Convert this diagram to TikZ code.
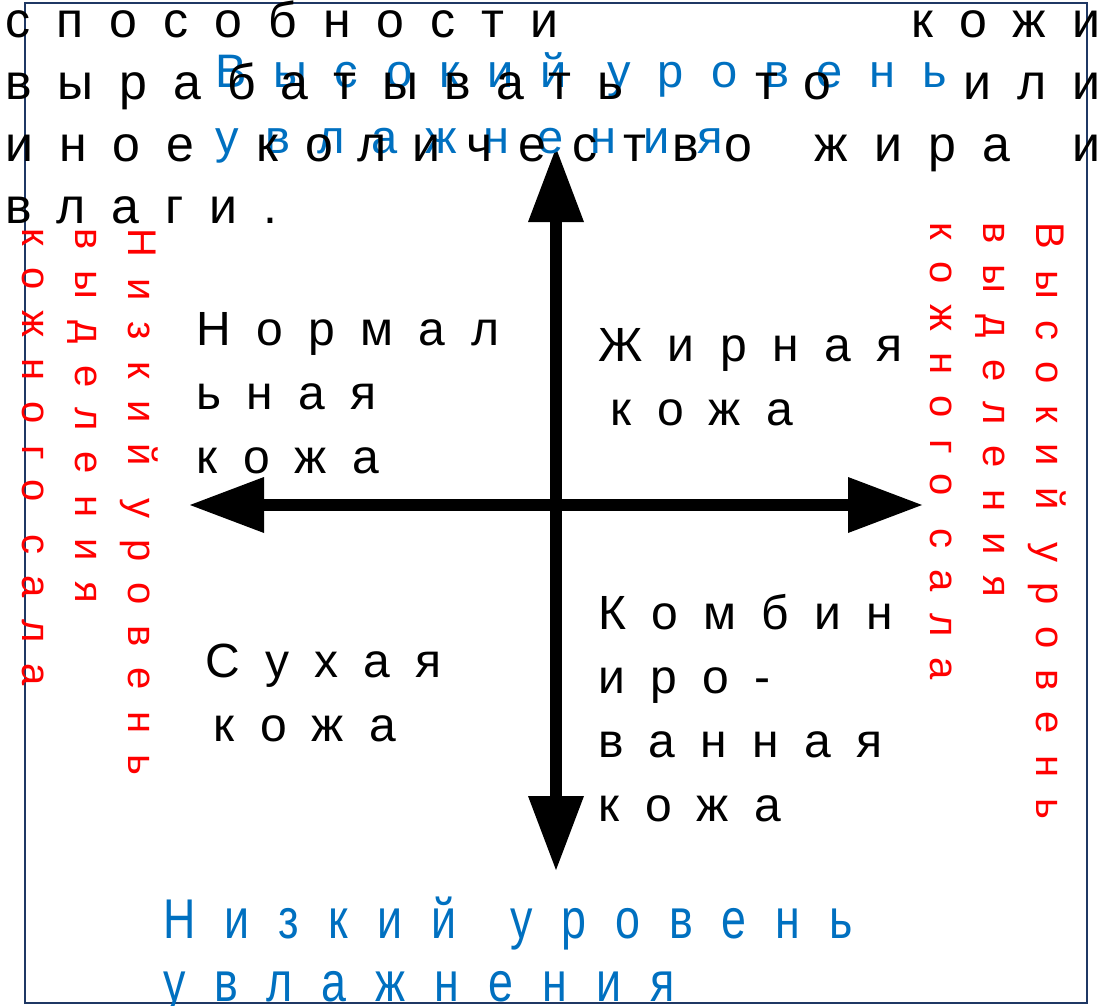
\documentclass[tikz,border=0pt]{standalone}
\usepackage{fontspec}
\setmainfont{Liberation Sans}
\usepackage{xcolor}
\usetikzlibrary{arrows.meta,positioning}
\definecolor{humblue}{HTML}{0070C0}
\definecolor{sebred}{HTML}{FF0000}
\definecolor{framecol}{HTML}{1F3864}
\newfontfamily\introfont[LetterSpace=52]{Liberation Sans}
\newfontfamily\skinfont[LetterSpace=53]{Liberation Sans}
\newfontfamily\humfont[LetterSpace=58]{Liberation Sans}
\newfontfamily\humlowfont[LetterSpace=52,FakeStretch=0.8,WordSpace=1.3]{Liberation Sans}
\newfontfamily\sebfont[LetterSpace=53]{Liberation Sans}
\newcommand{\spreadline}[1]{\makebox[1095pt][l]{#1}}

\begin{document}
\begin{tikzpicture}[x=1pt, y=1pt,
  intro/.style={anchor=north west, inner sep=0pt, text width=1095pt, align=left,
                font=\introfont\fontsize{50}{62}\selectfont},
  skin/.style={anchor=north west, inner sep=0pt, align=left,
               font=\skinfont\fontsize{48}{64}\selectfont},
  hum/.style={anchor=north west, inner sep=0pt, align=left, text=humblue,
              font=\humfont\fontsize{47}{66}\selectfont},
  humlow/.style={anchor=north west, inner sep=0pt, align=left, text=humblue,
                 font=\humlowfont\fontsize{56}{63}\selectfont},
  seb/.style={anchor=north west, inner sep=0pt, align=left, text=sebred, rotate=-90,
              font=\sebfont\fontsize{40}{53}\selectfont},
  axis/.style={line width=12pt,
               {Triangle[length=74pt, width=56pt, line width=0pt]}-{Triangle[length=74pt, width=56pt, line width=0pt]}}
]
  \useasboundingbox (0,0) rectangle (1109,-1006);
  \draw[framecol, line width=1.5pt] (25,-3) rectangle (1087,-1003);

  % axes
  \coordinate (up) at (556,-148);
  \coordinate (down) at (556,-870);
  \coordinate (left) at (190,-505);
  \coordinate (right) at (922,-505);
  \draw[axis] (down) -- (up);
  \draw[axis] (left) -- (right);

  % axis labels
  \node[hum] (humhigh) at (215,-52) {Высокий уровень\\увлажнения};
  \node[humlow] (humlow) at (163,-897) {Низкий уровень\\увлажнения};
  \node[seb] (seblow) at (158,-228) {Низкий уровень\\выделения\\кожного сала};
  \node[seb] (sebhigh) at (1066,-222) {Высокий уровень\\выделения\\кожного сала};

  % skin types
  \node[skin] (normal) at (196,-312) {Нормал\\ьная\\кожа};
  \node[skin] (oily) at (598,-328) {Жирная\\\hspace*{12pt}кожа};
  \node[skin] (dry) at (205,-644) {Сухая\\\hspace*{8pt}кожа};
  \node[skin] (combo) at (598,-594) {Комбин\\иро-\\ванная\\кожа};

  % overlapping text
  \node[intro] (intro) at (5,-1) {\spreadline{способности\hfill кожи}\\
    \spreadline{вырабатывать\hfill то\hfill или}\\
    \spreadline{иное\hfill количество\hfill жира\hfill и}\\
    влаги.};
\end{tikzpicture}
\end{document}
